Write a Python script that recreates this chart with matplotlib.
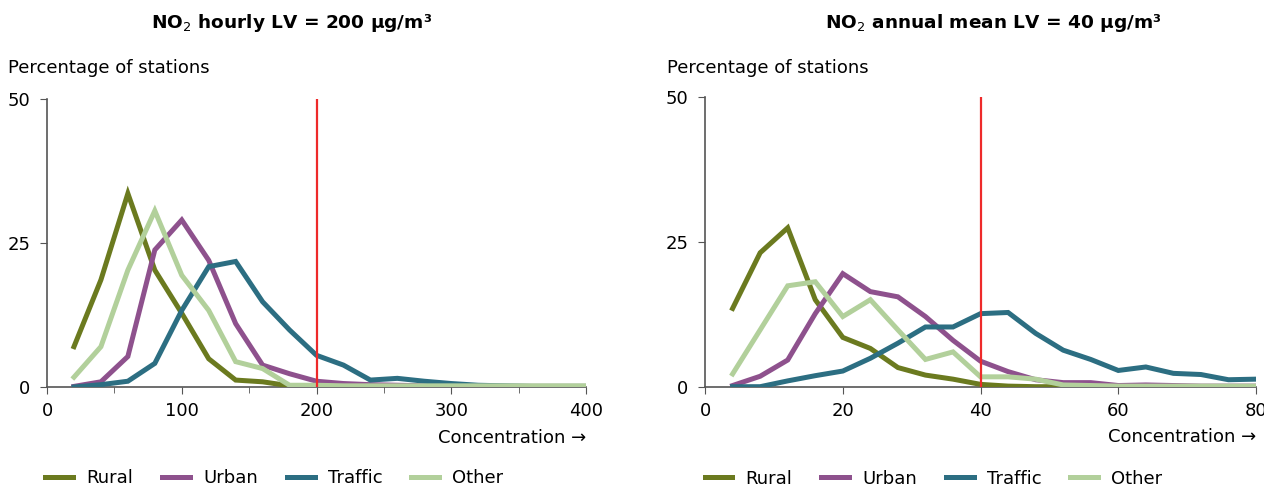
import matplotlib.pyplot as plt

# hourly values (left panel)
x_hourly = [20, 40, 60, 80, 100, 120, 140, 160, 180, 200, 220, 240, 260, 280, 300, 320, 340, 360, 380, 400]
rural_h = [7.0, 18.6, 33.6, 20.3, 12.8, 4.9, 1.2, 0.9, 0.2, 0, 0, 0, 0, 0, 0, 0, 0, 0, 0, 0]
urban_h = [0.1, 0.9, 5.3, 23.8, 29.0, 22.0, 11.0, 3.8, 2.3, 1.0, 0.6, 0.4, 0.3, 0.2, 0.1, 0.1, 0.1, 0.1, 0.1, 0.1]
traffic_h = [0, 0.4, 1.0, 4.1, 13.3, 20.9, 21.8, 14.8, 9.9, 5.5, 3.8, 1.2, 1.5, 1.0, 0.6, 0.3, 0.2, 0.1, 0.1, 0.1]
other_h = [1.7, 7.0, 20.3, 30.6, 19.4, 13.3, 4.4, 3.2, 0.3, 0.3, 0.2, 0.2, 0.2, 0.2, 0.2, 0.2, 0.2, 0.2, 0.2, 0.2]

# annual mean values (right panel)
x_annual = [4, 8, 12, 16, 20, 24, 28, 32, 36, 40, 44, 48, 52, 56, 60, 64, 68, 72, 76, 80]
rural_a = [13.5, 23.1, 27.4, 15.0, 8.5, 6.6, 3.3, 2.0, 1.3, 0.4, 0.1, 0, 0, 0, 0, 0, 0, 0, 0, 0]
urban_a = [0.2, 1.8, 4.6, 12.6, 19.5, 16.4, 15.5, 12.1, 8.0, 4.4, 2.6, 1.2, 0.7, 0.7, 0.2, 0.3, 0.2, 0.1, 0.1, 0.1]
traffic_a = [0, 0, 1.0, 1.9, 2.7, 4.9, 7.5, 10.3, 10.3, 12.6, 12.8, 9.2, 6.3, 4.7, 2.8, 3.4, 2.3, 2.1, 1.2, 1.3]
other_a = [2.2, 9.8, 17.4, 18.1, 12.1, 15.0, 9.8, 4.7, 6.0, 1.7, 1.7, 1.3, 0.3, 0.2, 0.1, 0.1, 0.1, 0.1, 0.1, 0.1]

labels = ['Rural', 'Urban', 'Traffic', 'Other']
colors = ['#6b7a1f', '#8e518d', '#2c6e82', '#b2d09b']

fig = plt.figure(figsize=(12.64, 4.88), dpi=100)
ax1 = fig.add_axes([0.0372, 0.207, 0.4264, 0.590])
ax2 = fig.add_axes([0.5578, 0.2076, 0.4359, 0.594])

panels = [
    (ax1, x_hourly, [rural_h, urban_h, traffic_h, other_h], 400, 200, 100,
     r'NO$_2$ hourly LV = 200 µg/m³', 0.231, 0.0063, -0.003),
    (ax2, x_annual, [rural_a, urban_a, traffic_a, other_a], 80, 40, 20,
     r'NO$_2$ annual mean LV = 40 µg/m³', 0.786, 0.5277, -0.001),
]

for ax, xs, series, xmax, lv, step, title, tx, px, lx in panels:
    for ys, lab, c in zip(series, labels, colors):
        ax.plot(xs, ys, color=c, lw=3.6, label=lab, solid_joinstyle='miter', zorder=3)
    ax.axvline(lv, ymin=0, ymax=1, color='#ee2a2a', lw=1.6, zorder=4)
    ax.set_xlim(0, xmax)
    ax.set_ylim(0, 50)
    ax.set_yticks([0, 25, 50])
    ax.set_xticks(range(0, xmax + 1, step))
    if step == 100:
        ax.set_xticks(range(0, xmax + 1, 50), minor=True)
        ax.tick_params(axis='x', which='minor', length=4, color='#555555')
    for s in ['top', 'right']:
        ax.spines[s].set_visible(False)
    for s in ['left', 'bottom']:
        ax.spines[s].set_color('#555555')
        ax.spines[s].set_linewidth(1.2)
    ax.tick_params(axis='both', length=5, color='#555555', labelsize=13)
    ax.tick_params(axis='y', pad=7)
    ax.tick_params(axis='x', pad=6)
    ax.set_xlabel('Concentration →', fontsize=13, loc='right', labelpad=6)
    fig.text(px, 0.861, 'Percentage of stations', fontsize=13, ha='left', va='center')
    fig.text(tx, 0.953, title, fontsize=13.3, fontweight='bold', ha='center', va='center')
    ax.legend(loc='upper left', bbox_to_anchor=(lx, -0.286), ncol=4, frameon=False,
              fontsize=13, handlelength=1.55, columnspacing=1.6, handletextpad=0.72,
              borderaxespad=0, borderpad=0)

plt.savefig('out.png', dpi=100)
